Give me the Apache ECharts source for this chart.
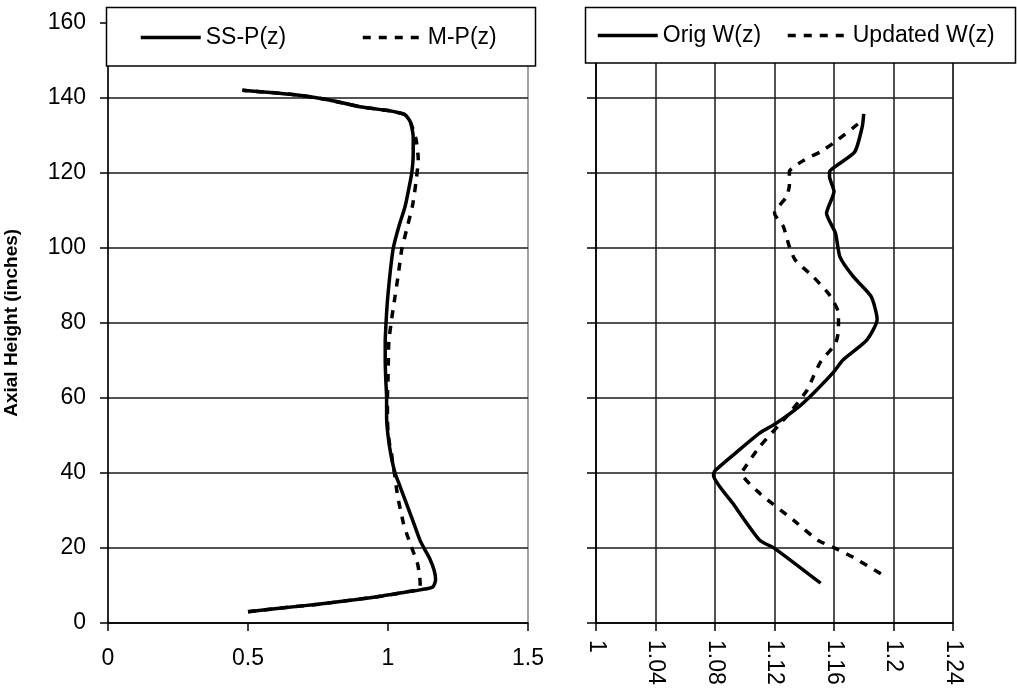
<!DOCTYPE html>
<html><head><meta charset="utf-8">
<script src="https://cdn.jsdelivr.net/npm/echarts@6/dist/echarts.min.js"></script>
<style>html,body{margin:0;padding:0;background:#fff}#c{width:1017px;height:693px}</style>
</head><body><div id="c"></div>
<script>
// ---- data (value, axial height) ----
const ssP_val = [0.50,0.62,0.75,0.88,0.98,1.06,1.12,1.16,1.17,1.165,1.15,1.132,1.114,1.09,1.065,1.04,1.025,1.01,1.0,0.995,0.995,0.992,0.99,0.99,0.993,0.997,1.003,1.01,1.019,1.04,1.061,1.075,1.085,1.09,1.09,1.08,1.06,1.0,0.9,0.79,0.69,0.58,0.48];
const ssP_h   = [3.0,4.0,5.0,6.2,7.2,8.2,8.9,9.6,11.5,14,17,19.5,22.1,27,32,37,40,45,50,55,60,65,70,75,80,85,90,95,100,106,111,116,120,125,129.6,133.5,135.5,136.6,137.6,139.4,140.6,141.4,142];
const mP_val  = [0.50,0.62,0.75,0.88,0.98,1.06,1.11,1.115,1.112,1.105,1.09,1.079,1.066,1.055,1.045,1.037,1.03,1.025,1.018,1.013,1.005,1.0,0.998,0.998,1.0,1.001,1.003,1.013,1.025,1.037,1.049,1.069,1.088,1.1,1.108,1.1,1.08,1.06,1.0,0.9,0.79,0.69,0.58,0.48];
const mP_h    = [3.0,4.0,5.0,6.2,7.2,8.2,9.0,10.5,13,16,19,21.2,24,26.6,30,32.8,36,39,42,45,48,51,55,60,65,69,75,81,87,93,99.5,105.6,111.4,117.6,123.6,129,133.5,135.5,136.6,137.6,139.4,140.6,141.4,142];
const origW_val = [1.180,1.179,1.174,1.162,1.157,1.157,1.160,1.155,1.161,1.164,1.173,1.185,1.189,1.182,1.166,1.160,1.146,1.135,1.121,1.110,1.095,1.080,1.079,1.092,1.110,1.120,1.151];
const origW_h   = [135.7,132.3,125.6,122,120.3,119,115,109.2,103.9,97.6,92.3,87,80.9,75.4,70.1,67,61.2,57.2,53.2,50.6,45.7,40.6,39.4,31.9,22.1,19.9,10.6];
const updW_val  = [1.176,1.161,1.151,1.140,1.130,1.130,1.128,1.120,1.126,1.130,1.134,1.146,1.157,1.163,1.163,1.161,1.151,1.146,1.142,1.130,1.124,1.110,1.099,1.098,1.110,1.134,1.149,1.161,1.173,1.194];
const updW_h    = [133,128.3,125.6,123.4,120.3,116.7,113.6,109.2,105.6,100.3,96.7,92.3,87.4,82.5,78.1,74.5,69.6,65.6,62.1,55.9,53.2,47,40.8,39.9,34.6,27,22.1,19.9,17.5,12.5];
const names = ['SS-P(z)','M-P(z)','Orig W(z)','Updated W(z)'];
const yTitle = 'Axial Height (inches)';

const pair = (a,b) => a.map((v,i)=>[v,b[i]]);
const FONT = 'Liberation Sans, Arial, sans-serif';
const chart = echarts.init(document.getElementById('c'));
const lbl = {color:'#000', fontSize:23, fontFamily:FONT};
const split = {show:true, lineStyle:{color:'#1a1a1a', width:1.5}};
const axLine = {show:true, lineStyle:{color:'#000', width:1.5}};
const legendText = {color:'#000', fontSize:23, fontFamily:FONT};
function lg(name,left,top){
  return {data:[name], left:left, top:top, padding:0, itemWidth:60, itemHeight:24, itemGap:0, z:20,
    textStyle:legendText, selectedMode:false,
    itemStyle:{opacity:0}, lineStyle:{width:3.5}};
}
chart.setOption({
  animation:false,
  backgroundColor:'#fff',
  graphic:[
    {type:'rect', z:10, shape:{x:106.5,y:7.5,width:429,height:58.5}, style:{fill:'#fff', stroke:'#000', lineWidth:1.5}},
    {type:'rect', z:10, shape:{x:585.5,y:7.5,width:430,height:55.5}, style:{fill:'#fff', stroke:'#000', lineWidth:1.5}}
  ],
  legend:[lg(names[0],139,26), lg(names[1],361,26), lg(names[2],596,24), lg(names[3],786,24)],
  grid:[
    {left:108, right:489, top:22.7, bottom:70, show:true, borderColor:'#444', borderWidth:1},
    {left:596, right:64, top:22.7, bottom:70, show:true, borderColor:'#444', borderWidth:1}
  ],
  xAxis:[
    {gridIndex:0, type:'value', min:0, max:1.5, interval:0.5, splitLine:{show:false},
     axisLine:axLine, axisTick:{show:true, length:8, lineStyle:{color:'#000',width:1.5}},
     axisLabel:Object.assign({margin:24, formatter:v=>String(parseFloat(v.toFixed(2)))}, lbl)},
    {gridIndex:1, type:'value', min:1, max:1.24, interval:0.04, splitLine:split,
     axisLine:axLine, axisTick:{show:true, length:8, lineStyle:{color:'#000',width:1.5}},
     axisLabel:Object.assign({margin:17, rotate:-90, formatter:v=>String(parseFloat(v.toFixed(2)))}, lbl)}
  ],
  yAxis:[
    {gridIndex:0, type:'value', min:0, max:160, interval:20, splitLine:split,
     axisLine:axLine, axisTick:{show:true, length:8, lineStyle:{color:'#000',width:1.5}},
     axisLabel:Object.assign({margin:22}, lbl),
     name:yTitle, nameLocation:'middle', nameRotate:90, nameGap:87,
     nameTextStyle:{color:'#000', fontSize:19, fontWeight:'bold', fontFamily:FONT}},
    {gridIndex:1, type:'value', min:0, max:160, interval:20, splitLine:split,
     axisLine:axLine, axisTick:{show:true, length:9, lineStyle:{color:'#000',width:1.5}},
     axisLabel:{show:false}}
  ],
  series:[
    {name:names[0], type:'line', xAxisIndex:0, yAxisIndex:0, data:pair(ssP_val,ssP_h), symbol:'none', smooth:0.2,
     lineStyle:{color:'#000', width:3.5}, itemStyle:{color:'#000'}},
    {name:names[1], type:'line', xAxisIndex:0, yAxisIndex:0, data:pair(mP_val,mP_h), symbol:'none', smooth:0.2,
     lineStyle:{color:'#000', width:3.5, type:[8,8]}, itemStyle:{color:'#000'}},
    {name:names[2], type:'line', xAxisIndex:1, yAxisIndex:1, data:pair(origW_val,origW_h), symbol:'none', smooth:0.2,
     lineStyle:{color:'#000', width:3.5}, itemStyle:{color:'#000'}},
    {name:names[3], type:'line', xAxisIndex:1, yAxisIndex:1, data:pair(updW_val,updW_h), symbol:'none', smooth:0.2,
     lineStyle:{color:'#000', width:3.5, type:[8,8]}, itemStyle:{color:'#000'}}
  ]
});
</script></body></html>
